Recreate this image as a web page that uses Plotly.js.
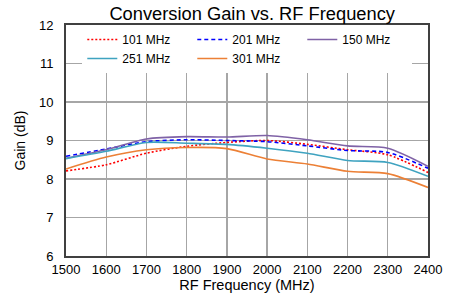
<!DOCTYPE html>
<html><head><meta charset="utf-8">
<script src="https://cdn.plot.ly/plotly-3.0.1.min.js"></script>
<style>html,body{margin:0;padding:0;background:#fff}#c{width:456px;height:301px}</style>
</head><body><div id="c"></div>
<script>
const freq = [1500,1600,1700,1800,1900,2000,2100,2200,2300,2400];
const names = ["101 MHz","201 MHz","150 MHz","251 MHz","301 MHz"];
const g101 = [8.21,8.37,8.67,8.85,8.95,9.00,8.90,8.76,8.63,8.17];
const g201 = [8.59,8.78,8.97,9.02,9.00,8.97,8.86,8.74,8.69,8.28];
const g150 = [8.54,8.76,9.04,9.10,9.09,9.13,9.02,8.86,8.80,8.33];
const g251 = [8.53,8.72,8.95,8.93,8.90,8.80,8.67,8.48,8.43,8.07];
const g301 = [8.26,8.57,8.76,8.82,8.79,8.52,8.39,8.20,8.14,7.78];
const xTicks = [1500,1600,1700,1800,1900,2000,2100,2200,2300,2400];
const yTicks = [6,7,8,9,10,11,12];

const series = [g101,g201,g150,g251,g301];
const colors = ["#ff0000","#0000ff","#7f62a6","#3fa3c0","#ec8036"];
const dashes = ["2px,2px","4px,3px","solid","solid","solid"];
const data = series.map((s,i)=>({
  x: freq, y: s, name: names[i], type:'scatter', mode:'lines',
  line:{color:colors[i], dash:dashes[i], width:1.6, shape:'spline', smoothing:0.7}
}));
const layout = {
  width:456, height:301,
  margin:{l:66,r:28,t:25,b:45},
  paper_bgcolor:'#fff', plot_bgcolor:'#fff',
  font:{family:'Liberation Sans, Arial, sans-serif', size:13, color:'#000'},
  title:{text:'Conversion Gain vs. RF Frequency', font:{size:18.3}, x:0.553, xanchor:'center', y:0.955, yanchor:'middle'},
  xaxis:{range:[1500,2400], tickvals:xTicks, ticktext:xTicks.map(String), showgrid:true, gridcolor:'#a6a6a6', gridwidth:1.3,
    showline:true, linecolor:'#404040', linewidth:2, mirror:true, zeroline:false, ticks:'',
    title:{text:'RF Frequency (MHz)', font:{size:14.5}, standoff:4}},
  yaxis:{range:[6,12], tickvals:yTicks, ticktext:yTicks.map(String), showgrid:true, gridcolor:'#a6a6a6', gridwidth:1.3,
    showline:true, linecolor:'#404040', linewidth:2, mirror:true, zeroline:false, ticks:'', ticklabelstandoff:8,
    title:{text:'Gain (dB)', font:{size:14}, standoff:10}},
  showlegend:true,
  legend:{orientation:'h', x:0.045, xanchor:'left', y:1.0, yanchor:'top', bgcolor:'#fff', borderwidth:0,
    entrywidth:65, entrywidthmode:'pixels', font:{size:12}, tracegroupgap:0, itemwidth:30}
};
Plotly.newPlot('c', data, layout, {displayModeBar:false, staticPlot:true});
</script></body></html>
